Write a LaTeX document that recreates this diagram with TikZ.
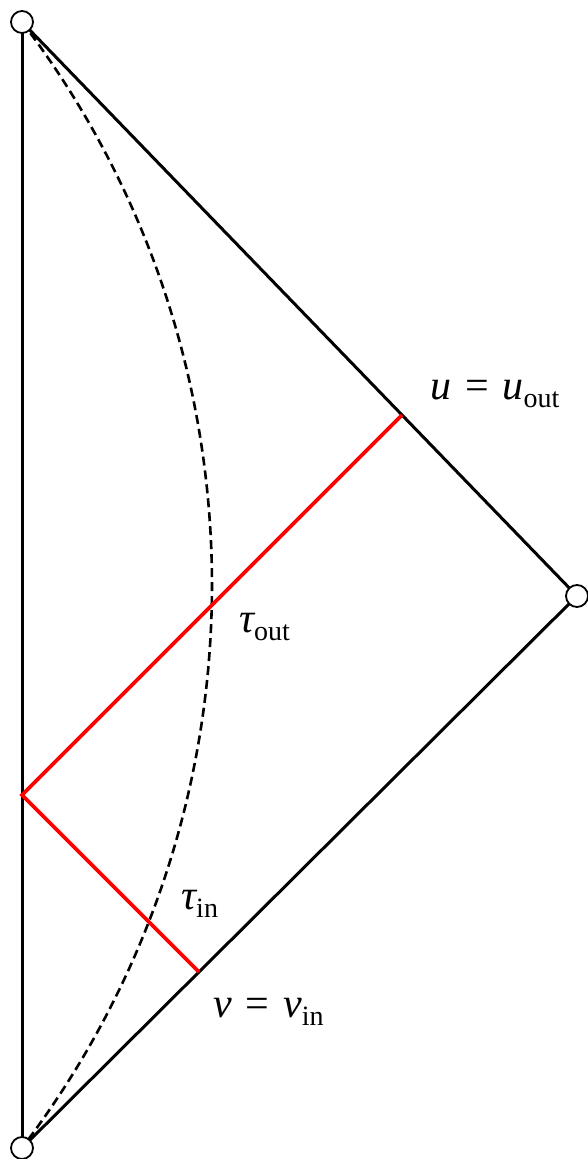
\documentclass[tikz,border=0pt]{standalone}
\usepackage{fontspec}
\setmainfont{Liberation Serif}
\newcommand{\mysub}[1]{\raisebox{-8pt}{\fontsize{28}{30}\selectfont #1}}
\tikzset{
  bline/.style={line width=3pt, black},
  rline/.style={line width=3.8pt, red},
  dline/.style={line width=2.6pt, black, dash pattern=on 9pt off 5pt},
  vert/.style={circle, draw, fill=white, line width=1.8pt, minimum size=22pt, inner sep=0pt},
  lab/.style={anchor=base west, inner sep=0pt, font=\fontsize{42}{46}\selectfont}
}
\begin{document}
\begin{tikzpicture}[x=1pt,y=1pt]
\useasboundingbox (0,0) rectangle (588,1159);
\coordinate (T) at (22,1137);
\coordinate (B) at (22,11);
\coordinate (R) at (577,563);
\coordinate (P) at (22,364);
\coordinate (U) at (402,744);
\coordinate (V) at (199,187);
% dashed arc
\draw[dline] (T) arc[start angle=37.3, end angle=-37.3, radius=929];
% boundary lines
\draw[bline] (T) -- (B);
\draw[bline] (T) -- (R);
\draw[bline] (B) -- (R);
% red lines
\draw[rline, line join=miter] (U) -- (P) -- (V);
% vertices
\node[vert] (nT) at (T) {};
\node[vert] (nB) at (B) {};
\node[vert] (nR) at (R) {};
% labels
\node[lab] (lu) at (430,759) {\itshape u\hspace{0.33em}\upshape=\hspace{0.33em}\itshape u\upshape\mysub{out}};
\node[lab] (lto) at (239,526) {\itshape τ\upshape\mysub{out}};
\node[lab] (lti) at (181,249) {\itshape τ\upshape\mysub{in}};
\node[lab] (lv) at (213,141) {\itshape v\hspace{0.33em}\upshape=\hspace{0.33em}\itshape v\upshape\mysub{in}};
\end{tikzpicture}
\end{document}
